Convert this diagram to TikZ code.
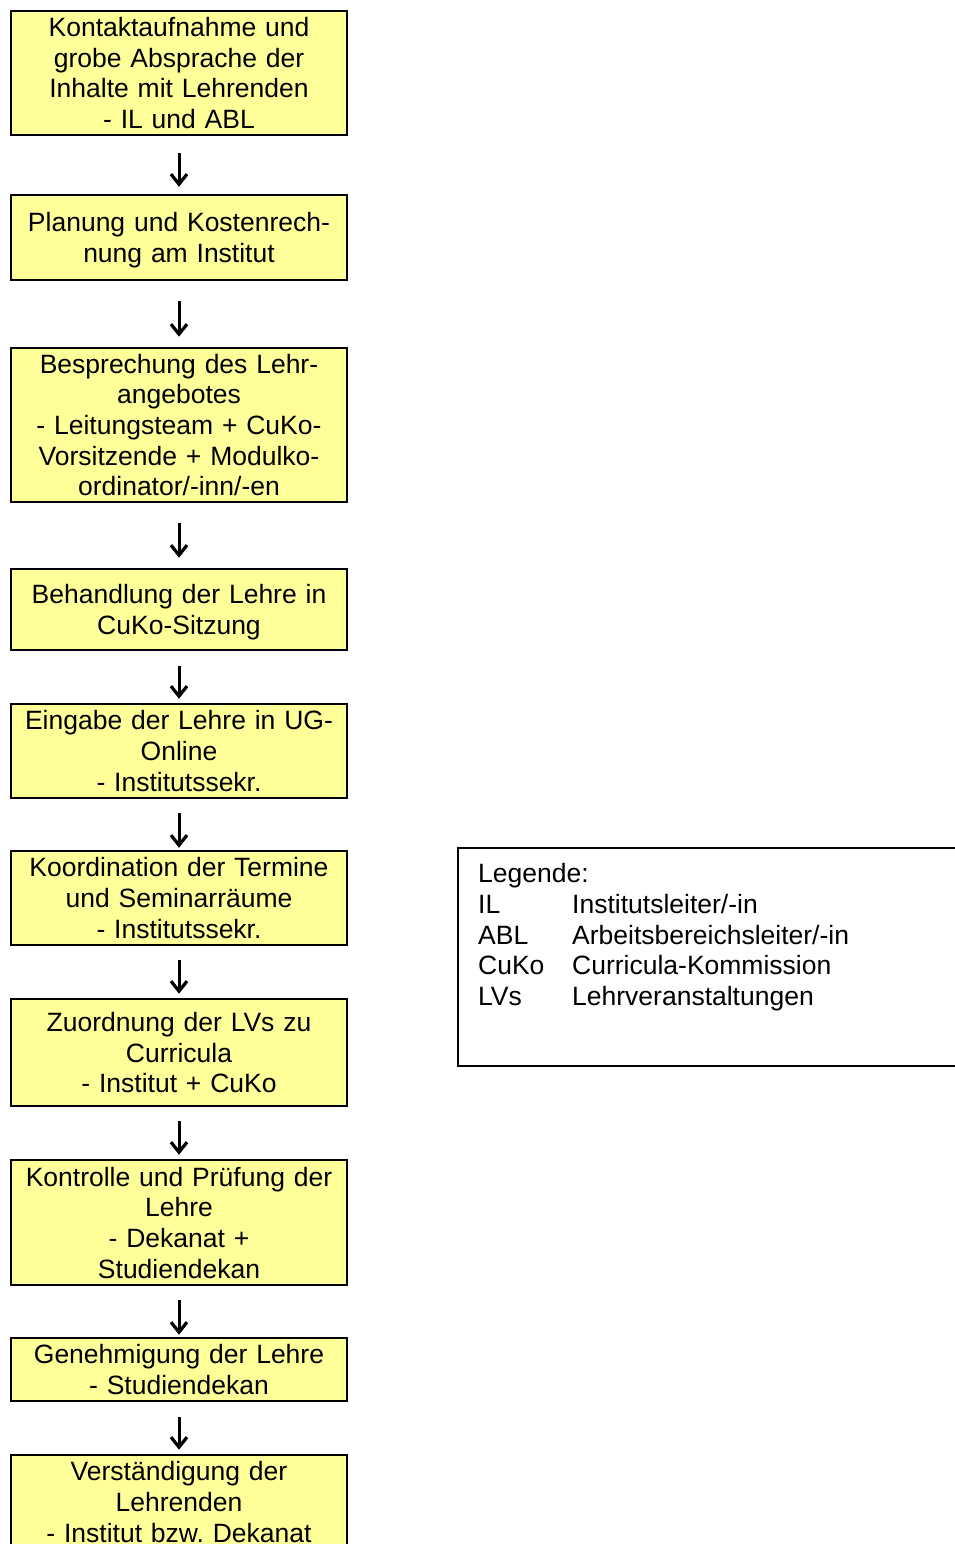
\documentclass[tikz,border=0pt]{standalone}
\usepackage{fontspec}
\setmainfont{Liberation Sans}
\usetikzlibrary{arrows.meta}
\definecolor{boxyellow}{HTML}{FFFF99}
\frenchspacing
\newcommand\boxstrut{\rule[-5.8pt]{0pt}{30.7pt}}
\tikzset{
  stepbox/.style={draw=black, line width=2.6pt, fill=boxyellow, inner sep=0pt,
    text width=336pt, align=center, minimum width=336pt,
    execute at begin node=\boxstrut, execute at end node=\boxstrut},
  arr/.style={line width=3pt, -{Straight Barb[length=10pt,width=16pt,line width=3.2pt]}},
  legendbox/.style={draw=black, line width=1.7pt, fill=white, inner sep=0pt}
}
\begin{document}
\begin{tikzpicture}[x=1pt,y=-1pt,font=\fontsize{26.5}{30.7}\selectfont]
\useasboundingbox (0,0) rectangle (955,1544);
\clip (0,0) rectangle (955,1544);
\fill[white] (0,0) rectangle (955,1544);

\node[stepbox, minimum height=124pt] (b1) at (179,73)
  {Kontaktaufnahme und\\grobe Absprache der\\Inhalte mit Lehrenden\\- IL und ABL};
\node[stepbox, minimum height=85pt] (b2) at (179,237.5)
  {Planung und Kostenrech-\\nung am Institut};
\node[stepbox, minimum height=154pt] (b3) at (179,425)
  {Besprechung des Lehr-\\angebotes\\- Leitungsteam + CuKo-\\Vorsitzende + Modulko-\\ordinator/-inn/-en};
\node[stepbox, minimum height=81pt] (b4) at (179,609.5)
  {Behandlung der Lehre in\\CuKo-Sitzung};
\node[stepbox, minimum height=94pt] (b5) at (179,751)
  {Eingabe der Lehre in UG-\\Online\\- Institutssekr.};
\node[stepbox, minimum height=94pt] (b6) at (179,898)
  {Koordination der Termine\\und Seminarräume\\- Institutssekr.};
\node[stepbox, minimum height=107pt] (b7) at (179,1052.5)
  {Zuordnung der LVs zu\\Curricula\\- Institut + CuKo};
\node[stepbox, minimum height=125pt] (b8) at (179,1222.5)
  {Kontrolle und Prüfung der\\Lehre\\- Dekanat +\\Studiendekan};
\node[stepbox, minimum height=63pt] (b9) at (179,1369.5)
  {Genehmigung der Lehre\\- Studiendekan};
\node[stepbox, minimum height=94pt] (b10) at (179,1502)
  {Verständigung der\\Lehrenden\\- Institut bzw. Dekanat};

\draw[arr, shorten <=17pt, shorten >=7pt] (b1) -- (b2);
\draw[arr, shorten <=20pt, shorten >=10pt] (b2) -- (b3);
\draw[arr, shorten <=20pt, shorten >=10pt] (b3) -- (b4);
\draw[arr, shorten <=15pt, shorten >=4pt] (b4) -- (b5);
\draw[arr, shorten <=14pt, shorten >=2pt] (b5) -- (b6);
\draw[arr, shorten <=14pt, shorten >=4pt] (b6) -- (b7);
\draw[arr, shorten <=14pt, shorten >=4pt] (b7) -- (b8);
\draw[arr, shorten <=14pt, shorten >=2pt] (b8) -- (b9);
\draw[arr, shorten <=15pt, shorten >=4pt] (b9) -- (b10);

\node[legendbox, anchor=north west, minimum width=506pt, minimum height=218pt] (legend) at (457,847) {};
\node[anchor=north west, inner sep=0pt] (legtext) at ([xshift=21pt,yshift=-14pt]legend.north west)
  {\begin{tabular}[t]{@{}p{94pt}@{}l@{}}
    \multicolumn{2}{@{}l@{}}{Legende:}\\
    IL & Institutsleiter/-in\\
    ABL & Arbeitsbereichsleiter/-in\\
    CuKo & Curricula-Kommission\\
    LVs & Lehrveranstaltungen
  \end{tabular}};
\end{tikzpicture}
\end{document}
